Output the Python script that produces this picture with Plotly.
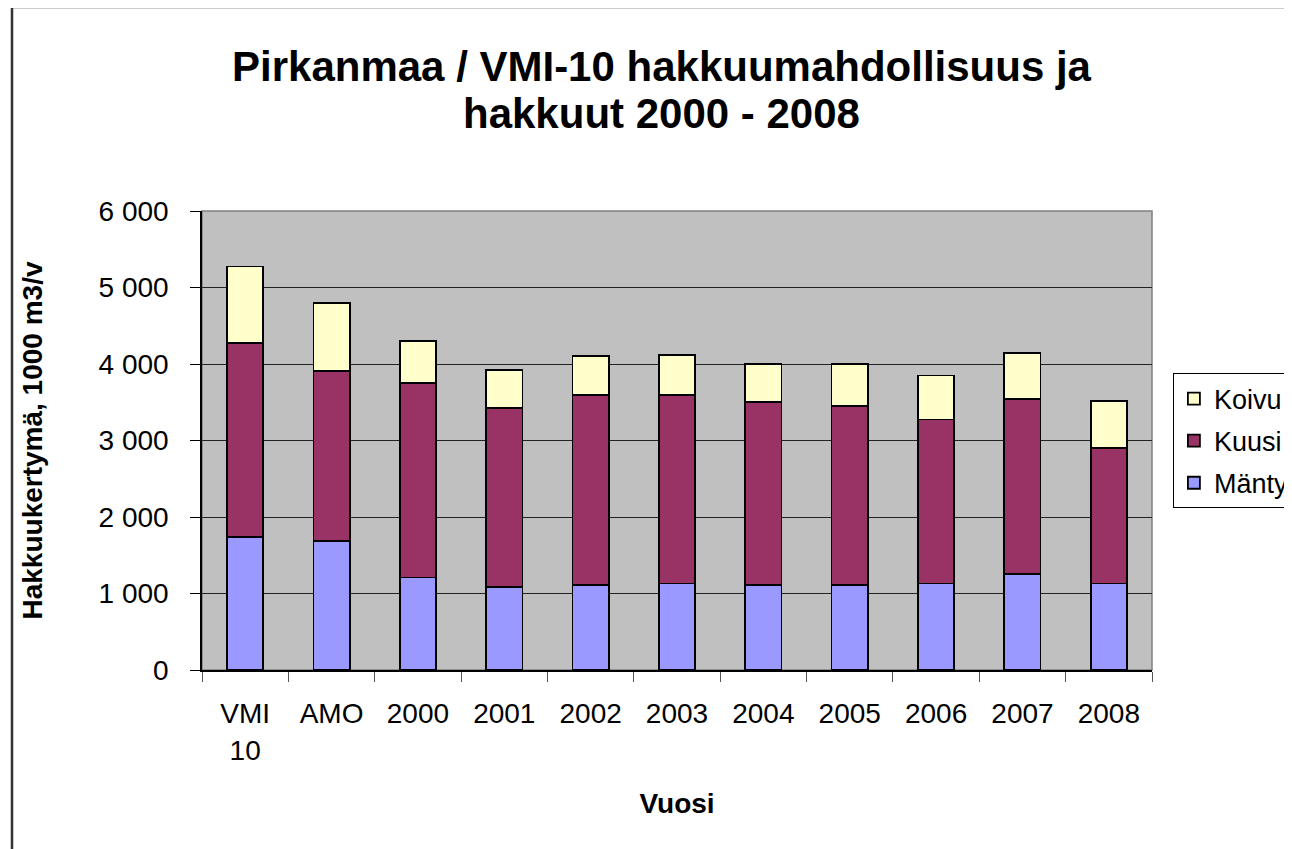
import plotly.graph_objects as go

categories = ["VMI<br>10", "AMO", "2000", "2001", "2002", "2003", "2004", "2005", "2006", "2007", "2008"]
manty = [1735, 1685, 1210, 1085, 1110, 1130, 1110, 1110, 1130, 1260, 1130]
kuusi = [2540, 2220, 2540, 2345, 2490, 2470, 2390, 2340, 2145, 2285, 1770]
koivu = [1000, 895, 550, 495, 500, 520, 500, 550, 575, 600, 620]
ytickvals = [0, 1000, 2000, 3000, 4000, 5000, 6000]
yticktext = ["0", "1 000", "2 000", "3 000", "4 000", "5 000", "6 000"]
title_lines = ["Pirkanmaa / VMI-10 hakkuumahdollisuus ja", "hakkuut 2000 - 2008"]

FONT = "Liberation Sans, Arial, sans-serif"
line = dict(color="black", width=1.8)

fig = go.Figure()
fig.add_trace(go.Bar(name="Mänty", x=categories, y=manty, marker=dict(color="#9999FF", line=line),
                     legendrank=3, legendgroup="g3"))
fig.add_trace(go.Bar(name="Kuusi", x=categories, y=kuusi, marker=dict(color="#993366", line=line),
                     legendrank=2, legendgroup="g2"))
fig.add_trace(go.Bar(name="Koivu", x=categories, y=koivu, marker=dict(color="#FFFFCC", line=line),
                     legendrank=1, legendgroup="g1"))

fig.update_layout(
    width=1284, height=841,
    barmode="stack", bargap=0.58,
    paper_bgcolor="white", plot_bgcolor="#C0C0C0",
    font=dict(family=FONT, color="black", size=28),
    margin=dict(l=194, r=140, t=203, b=179, autoexpand=False),
    legend=dict(x=1.022, xanchor="left", y=0.646, yanchor="top",
                traceorder="grouped", tracegroupgap=4,
                bgcolor="white", bordercolor="black", borderwidth=1,
                font=dict(size=27, family=FONT)),
    xaxis=dict(showline=True, linecolor="black", linewidth=1.5,
               ticks="outside", tickson="boundaries", ticklen=10, tickcolor="#555",
               ticklabelstandoff=18,
               title=dict(text="<b>Vuosi</b>", standoff=29, font=dict(size=28))),
    yaxis=dict(range=[0, 6000], tickvals=ytickvals, ticktext=yticktext,
               showline=True, linecolor="black", linewidth=1.5,
               ticks="outside", ticklen=10, tickcolor="black", ticklabelstandoff=16,
               showgrid=True, gridcolor="#222", gridwidth=1, zeroline=False,
               title=dict(text="<b>Hakkuukertymä, 1000 m3/v</b>", standoff=48, font=dict(size=28))),
    annotations=[
        dict(text="<b>%s</b>" % title_lines[0], xref="paper", yref="paper", x=0.484, y=1.315,
             xanchor="center", yanchor="middle", showarrow=False, font=dict(size=42, family=FONT)),
        dict(text="<b>%s</b>" % title_lines[1], xref="paper", yref="paper", x=0.484, y=1.213,
             xanchor="center", yanchor="middle", showarrow=False, font=dict(size=42, family=FONT)),
    ],
    shapes=[
        dict(type="rect", xref="x domain", yref="y domain", x0=0, x1=1, y0=0, y1=1,
             line=dict(color="#808080", width=1.5), layer="below"),
        dict(type="rect", xref="paper", yref="paper", x0=-0.2, x1=2, y0=-1, y1=1.4445,
             line=dict(color="#333", width=2.5)),
    ],
)

fig.write_html("out.html")
